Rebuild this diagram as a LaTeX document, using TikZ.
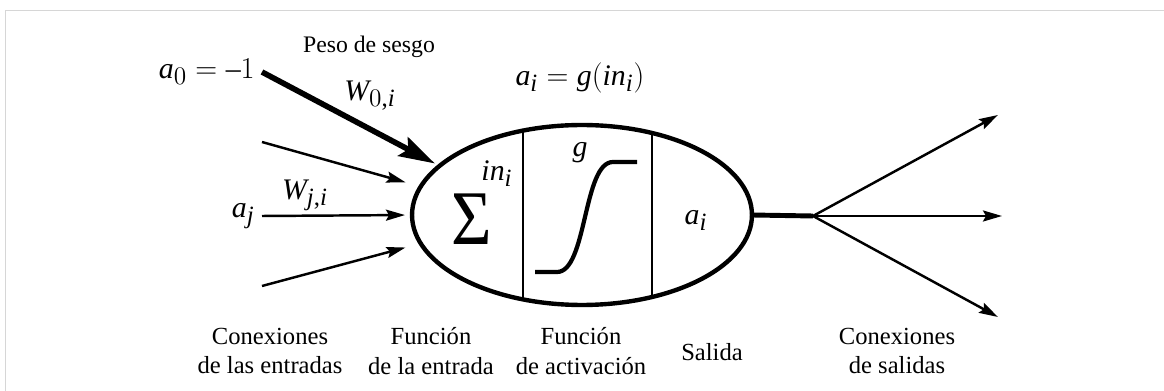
\documentclass[tikz,border=0pt]{standalone}
\usepackage{fontspec}
\setmainfont{Liberation Serif}
\usepackage[italic]{mathastext}
\usetikzlibrary{shapes.geometric, arrows.meta, positioning, calc}
\definecolor{ink}{RGB}{0, 0, 0}
\definecolor{framegray}{RGB}{214, 214, 214}
\tikzset{
    font=\fontsize{14}{16}\selectfont,
    neuron/.style={ellipse, draw=ink, line width=2.5pt, minimum width=6.8cm, minimum height=3.6cm, inner sep=0pt, outer sep=0pt},
    divider/.style={draw=ink, line width=0.9pt},
    inarrow/.style={-{Stealth[length=0.38cm, width=0.22cm, inset=0.06cm]}, line width=1.4pt, color=ink},
    biasarrow/.style={-{Stealth[length=0.72cm, width=0.42cm, inset=0.12cm]}, line width=3.2pt, color=ink},
    outarrow/.style={-{Stealth[length=0.38cm, width=0.22cm, inset=0.06cm]}, line width=1.4pt, color=ink},
    stub/.style={line width=2.8pt, color=ink},
    sigmoid/.style={line width=2.4pt, color=ink},
    mathlabel/.style={font=\fontsize{17}{19}\selectfont, inner sep=0pt},
    inlabel/.style={font=\fontsize{17}{19}\selectfont, inner xsep=4pt, inner ysep=0pt, anchor=east},
    label_text/.style={font=\fontsize{14}{17}\selectfont, align=center, inner sep=0pt}
}

\begin{document}
\begin{tikzpicture}[x=0.02cm, y=-0.02cm]

    \useasboundingbox (0,0) rectangle (1164,391);
    \draw [framegray, line width=0.8pt] (5.5,391) -- (5.5,10.5) -- (1164,10.5);

    % unit
    \node (neuron) [neuron] at (582,215) {};
    \begin{scope}
        \clip (582,215) ellipse [x radius=3.4cm, y radius=1.8cm];
        \draw [divider] (523,100) -- (523,330);
        \draw [divider] (652,100) -- (652,330);
    \end{scope}

    \node (sigma) [font=\fontsize{44}{44}\selectfont, xscale=0.9, inner sep=0pt] at (472,219) {Σ};
    \node (net)   [mathlabel] at (497,174) {$in_i$};
    \node (gname) [mathlabel] at (580,153) {$g$};
    \draw [sigmoid] (535,272) -- (557,272) .. controls (587,272) and (583,162) .. (613,162) -- (637,162);
    \node (out)   [mathlabel] at (696,220) {$a_i$};
    \node (act)   [mathlabel] at (580,78) {$a_i = g(in_i)$};

    % inputs
    \node (bias)    [inlabel] at (262,72) {$a_0 = -1$};
    \node (biasw)   [mathlabel] at (370,96) {$W_{0,i}$};
    \node (biastxt) [font=\fontsize{13.5}{15}\selectfont] at (369,47) {Peso de sesgo};
    \node (aj)      [inlabel] at (262,216) {$a_j$};
    \node (wji)     [mathlabel] at (305,195) {$W_{j,i}$};
    \coordinate (inup) at (262,142);
    \coordinate (indn) at (262,286);

    \draw [biasarrow] (bias.east) -- (neuron.161) [shorten >=3pt];
    \draw [inarrow] (inup) -- (neuron.170) [shorten >=9pt];
    \draw [inarrow] (aj.east) -- (neuron.west) [shorten >=4pt];
    \draw [inarrow] (indn) -- (neuron.190) [shorten >=9pt];

    % outputs
    \coordinate (fork) at (813,216);
    \coordinate (outup) at (998,115);
    \coordinate (outmid) at (1002,216);
    \coordinate (outdn) at (998,317);
    \draw [stub] (neuron.east) -- (fork);
    \draw [outarrow] (fork) -- (outup);
    \draw [outarrow] (fork) -- (outmid);
    \draw [outarrow] (fork) -- (outdn);

    % captions
    \node (capin)  [label_text] at (270,351) {Conexiones\\de las entradas};
    \node (capnet) [label_text] at (431,351) {Función\\de la entrada};
    \node (capact) [label_text] at (581,351) {Función\\de activación};
    \node (capout) [label_text] at (712,352) {Salida};
    \node (capcon) [label_text] at (897,351) {Conexiones\\de salidas};

\end{tikzpicture}
\end{document}
